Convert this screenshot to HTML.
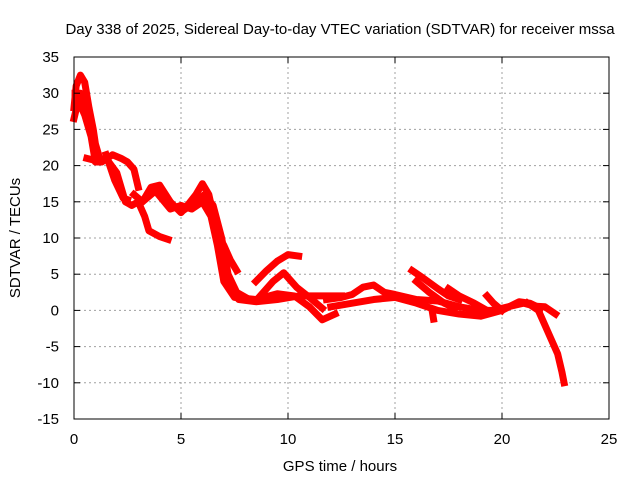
<!DOCTYPE html>
<html><head><meta charset="utf-8"><style>
body{margin:0;background:#fff}
svg text{font-family:"Liberation Sans",sans-serif;font-size:15px;fill:#000}
</style></head><body>
<svg id="chart" width="640" height="480" viewBox="0 0 640 480" xmlns="http://www.w3.org/2000/svg">
<rect width="640" height="480" fill="#fff"/>
<text x="340" y="34" text-anchor="middle">Day 338 of 2025, Sidereal Day-to-day VTEC variation (SDTVAR) for receiver mssa</text>
<text x="340" y="471" text-anchor="middle">GPS time / hours</text>
<text transform="translate(20,238) rotate(-90)" text-anchor="middle">SDTVAR / TECUs</text>
<g id="grid"></g><g id="series"></g><g id="axes"></g>
</svg>
<script>
const xTicks=[0,5,10,15,20,25];
const yTicks=[-15,-10,-5,0,5,10,15,20,25,30,35];
const track1=[[0,28],[0.1,31],[0.3,32.5],[0.5,31.5],[0.7,28],[0.9,25],[1.0,23],[1.2,21]];
const track2=[[0,26.5],[0.2,29],[0.5,27],[0.8,24],[1.0,20.5],[1.3,20.5],[1.8,21.5],[2.2,21],[2.5,20.5],[2.8,19.5],[3.0,17]];
const track3=[[0.6,21],[1.0,20.7],[1.5,21],[2.0,19],[2.4,15],[2.7,14.5],[3.0,15],[3.3,13],[3.5,11],[4.0,10.2],[4.4,9.8]];
const track4=[[1.5,21.5],[1.9,18],[2.3,15.5],[2.5,15.3]];
const track5=[[2.8,16],[3.2,15],[3.6,17],[4.0,17.3],[4.5,15],[5.0,13.5],[5.3,14.5],[5.7,16],[6.0,17.5],[6.3,16],[6.6,12],[7.0,6],[7.3,3],[7.7,1.5],[8.5,1.2],[9.5,1.5],[10.5,2],[11.5,2],[12.5,2]];
const track6=[[3.2,15],[3.8,16.5],[4.5,14],[5.0,14.5],[5.5,14],[6.0,15],[6.4,13],[6.7,9],[7.0,4],[7.5,1.8],[8.5,1.5],[9.5,2.3],[10.3,2],[11,0.5],[11.6,-1.3],[12.2,-0.5]];
const track7=[[6.6,11],[7.0,9],[7.3,7],[7.6,5.5]];
const track8=[[8.5,4],[9.0,5.5],[9.5,6.8],[10.0,7.7],[10.5,7.5]];
const track9=[[8.7,2],[9.3,4],[9.8,5.2],[10.4,3.2],[11,1.8],[11.6,0.3]];
const track10=[[11.8,1.5],[12.5,1.8],[13,2.2],[13.5,3.2],[14,3.5],[14.5,2.5],[15,2.2],[16,1.5],[17,1.3],[18,0.5],[19,0],[19.5,0],[20,0.3],[21,1],[21.5,0.6],[22,0.5],[22.5,-0.5]];
const track11=[[12,0.5],[13,1],[14,1.5],[15,1.8],[16,1],[17,0],[18,-0.5],[19,-0.8],[20,0],[20.8,1.2],[21.3,1],[21.8,0.3]];
const track12=[[15.8,5.5],[16.3,4.5],[17,3],[17.5,2],[18,1.5]];
const track13=[[16,4],[16.6,2.5],[17.3,1],[17.8,0.3]];
const track14=[[17.5,3],[18,2],[18.7,1],[19.3,0]];
const track15=[[19.3,2],[19.6,1],[20,0]];
const track16=[[21.2,1],[21.7,0],[22,-2],[22.3,-4],[22.6,-6],[22.8,-8.5],[22.9,-10]];
const track17=[[16.75,-0.3],[16.8,-1.2]];
const track18=[[0.05,30],[0.3,30],[0.6,27],[0.9,23.5],[1.1,21.5]];
const track19=[[5.2,14],[5.7,15],[6.1,16],[6.5,14.5],[6.9,10],[7.2,5],[7.6,2.5],[8.2,1.5]];
const tracks=[track1,track2,track3,track4,track5,track6,track7,track8,track9,track10,track11,track12,track13,track14,track15,track16,track17,track18,track19];
const X0=74,X1=609,Y0=419,Y1=57;
const sx=v=>X0+(v-0)/25*(X1-X0);
const sy=v=>Y0-(v+15)/50*(Y0-Y1);
const NS="http://www.w3.org/2000/svg";
const mk=(t,a,p)=>{const e=document.createElementNS(NS,t);for(const k in a)e.setAttribute(k,a[k]);p.appendChild(e);return e;};
const grid=document.getElementById('grid'),ax=document.getElementById('axes'),se=document.getElementById('series');
xTicks.forEach(t=>{
 if(t>0&&t<25){const l=mk('line',{x1:sx(t),x2:sx(t),y1:Y1,y2:Y0,stroke:'#a0a0a0','stroke-dasharray':'2,3'},grid);
 
 }
 const tl=mk('text',{x:sx(t),y:Y0+25,'text-anchor':'middle'},ax);tl.textContent=t;
 
 
 mk('line',{x1:sx(t),x2:sx(t),y1:Y0,y2:Y0-6,stroke:'#000'},ax);
 mk('line',{x1:sx(t),x2:sx(t),y1:Y1,y2:Y1+6,stroke:'#000'},ax);
});
yTicks.forEach(t=>{
 if(t>-15&&t<35){const l=mk('line',{x1:X0,x2:X1,y1:sy(t),y2:sy(t),stroke:'#a0a0a0','stroke-dasharray':'2,3'},grid);
 
 }
 const tl=mk('text',{x:X0-15,y:sy(t)+5,'text-anchor':'end'},ax);tl.textContent=t;
 
 
 mk('line',{x1:X0,x2:X0+6,y1:sy(t),y2:sy(t),stroke:'#000'},ax);
 mk('line',{x1:X1,x2:X1-6,y1:sy(t),y2:sy(t),stroke:'#000'},ax);
});
const fr=mk('rect',{x:X0,y:Y1,width:X1-X0,height:Y0-Y1,fill:'none',stroke:'#000'},ax);


tracks.forEach(tr=>{
 const p=mk('polyline',{points:tr.map(d=>sx(d[0])+','+sy(d[1])).join(' '),fill:'none',stroke:'#ff0000','stroke-width':7,'stroke-linejoin':'round','stroke-linecap':'square'},se);
 
 
});
</script>
</body></html>
